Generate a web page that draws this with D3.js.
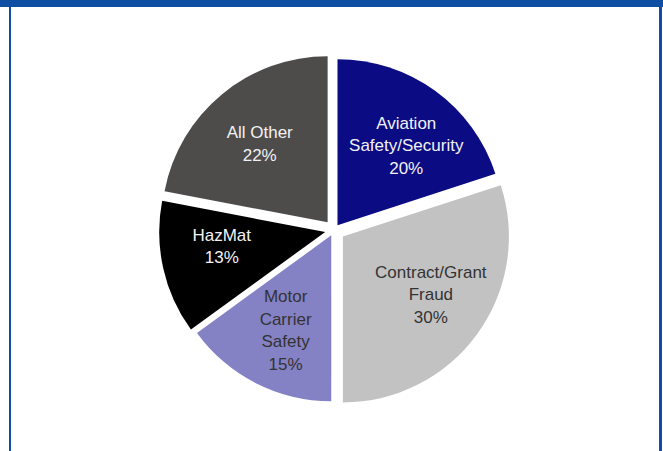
<!DOCTYPE html>
<html>
<head>
<meta charset="utf-8">
<script src="https://cdn.jsdelivr.net/npm/d3@7"></script>
<style>
  html, body { margin: 0; padding: 0; background: #fff; }
  svg { display: block; }
</style>
</head>
<body>
<svg id="chart" width="663" height="451"></svg>
<script>
// chart data
const categories = ["Aviation Safety/Security", "Contract/Grant Fraud", "Motor Carrier Safety", "HazMat", "All Other"]
const labelLines = [["Aviation", "Safety/Security"], ["Contract/Grant", "Fraud"], ["Motor", "Carrier", "Safety"], ["HazMat"], ["All Other"]]
const shares = [20, 30, 15, 13, 22]

// styling
const colors = ["#0b0b84", "#c2c2c2", "#8581c5", "#000000", "#4e4b4b"]
const textColors = ["#f2f2f2", "#333333", "#333333", "#f2f2f2", "#f2f2f2"]
const explode = [6, 11, 6, 9, 10]
// small label nudges, px (excel fits labels a bit off the centroid)
const labelNudge = [[7, 5], [3, -4], [2, 1], [-1, -9], [-1, 2]]

const width = 663
const height = 451
const cx = 334
const cy = 230
const radius = 166
const labelRadius = 105
const lineHeight = 22.5

const svg = d3.select('#chart')

// frame
svg.append('rect').attr('x', 0).attr('y', 0).attr('width', width).attr('height', 7).attr('fill', '#0e4fa3')
svg.append('rect').attr('x', 9).attr('y', 0).attr('width', 2).attr('height', height).attr('fill', '#0e4fa3')
svg.append('rect').attr('x', 659).attr('y', 0).attr('width', 3).attr('height', height).attr('fill', '#0e4fa3')

const pie = d3.pie().sort(null).value(d => d)
const arcs = pie(shares)

const arc = d3.arc().innerRadius(0).outerRadius(radius)
const labelArc = d3.arc().innerRadius(labelRadius).outerRadius(labelRadius)

const g = svg.append('g').attr('transform', 'translate(' + cx + ',' + cy + ')')

const slice = g.selectAll('g.slice')
  .data(arcs)
  .enter().append('g')
  .attr('class', 'slice')
  .attr('transform', (d, i) => {
    const mid = (d.startAngle + d.endAngle) / 2
    return 'translate(' + (Math.sin(mid) * explode[i]) + ',' + (-Math.cos(mid) * explode[i]) + ')'
  })

slice.append('path')
  .attr('d', arc)
  .attr('fill', (d, i) => colors[i])
  .append('title')
  .text((d, i) => categories[i])

const fmt = d => d + '%'

slice.each(function (d, i) {
  const lines = labelLines[i].concat([fmt(shares[i])])
  const c = labelArc.centroid(d)
  const x = c[0] + labelNudge[i][0]
  const top = c[1] + labelNudge[i][1] - (lines.length - 1) / 2 * lineHeight
  const t = d3.select(this).append('text')
    .attr('text-anchor', 'middle')
    .attr('font-family', '"Liberation Sans", Arial, sans-serif')
    .attr('font-size', 17)
    .attr('fill', textColors[i])
  t.selectAll('tspan')
    .data(lines)
    .enter().append('tspan')
    .attr('x', x)
    .attr('y', (l, k) => top + k * lineHeight)
    .attr('dy', '0.35em')
    .text(l => l)
})
</script>
</body>
</html>
